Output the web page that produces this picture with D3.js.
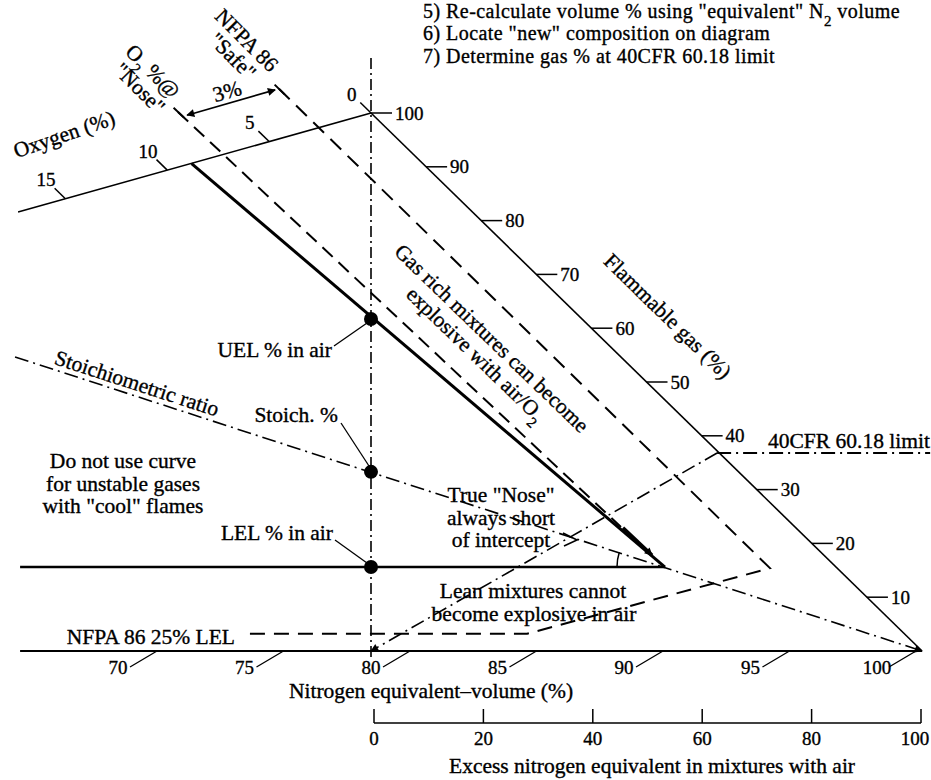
<!DOCTYPE html>
<html>
<head>
<meta charset="utf-8">
<script src="https://cdn.jsdelivr.net/npm/d3@7"></script>
<style>
body { margin: 0; background: #fff; }
svg text { font-family: "Liberation Serif", "Times New Roman", serif; font-size: 21.5px; fill: #000; stroke: #000; stroke-width: 0.35px; }
svg .tick text { font-size: 19px; }
svg text.step { font-size: 20px; letter-spacing: 0.45px; }
</style>
</head>
<body>
<script>
// data, in diagram units: [nitrogen equivalent %, flammable gas %]
var n2Ticks = [70, 75, 80, 85, 90, 95, 100];
var gasTicks = [10, 20, 30, 40, 50, 60, 70, 80, 90, 100];
var oxyTicks = [0, 5, 10, 15];
var excessTicks = [0, 20, 40, 60, 80, 100];

var hypotenuse = [[80, 100], [101.78, 0]];
var baseAxis = [[66.13, 0], [101.78, 0]];
var oxygenAxis = [[80, 100], [66.05, 81.6]];
var airLine = [[80, 110.2], [80, -1.7]];
var flammLimit = [[72.91, 90.6], [91.62, 15.6]];
var lelLine = [[66.13, 15.6], [91.62, 15.6]];
var stoichLine = [[65.93, 54.65], [101.78, 0]];
var noseLine = [[72.37, 100.2], [89.88, 23.05]];
var noseArrow = [[89.96, 22.9], [91.11, 17.8]];
var safeLine = [[76.36, 104.5], [95.77, 15.4], [86.17, 3.2], [75.06, 3.2]];
var cfrDiag = [[93.68, 36.8], [80, 0]];
var cfrLimit = [[93.68, 36.8], [102.1, 36.8]];
var threePct = [[72.73, 99.6], [76.21, 104.3]];
var airPoints = [61.7, 33.3, 15.6]; // UEL, stoich, LEL on the air line

var stepLines = [
    ["5) Re-calculate volume % using \"equivalent\" N", "2", " volume"],
    ["6) Locate \"new\" composition on diagram"],
    ["7) Determine gas % at 40CFR 60.18 limit"]
];

var width = 931, height = 780;

var svg = d3.select("body").append("svg")
    .attr("width", width)
    .attr("height", height);

// scales
var x = d3.scaleLinear().domain([70, 100]).range([118, 877]);
var y = d3.scaleLinear().domain([0, 100]).range([651, 113]);
var oxyN = d3.scaleLinear().domain([0, 15]).range([80, 67.92]);
var oxyG = d3.scaleLinear().domain([0, 15]).range([100, 84.07]);
var xExcess = d3.scaleLinear().domain([0, 100]).range([374, 921]);

var line = d3.line().x(function(d){ return x(d[0]); }).y(function(d){ return y(d[1]); });

// arrow markers
var defs = svg.append("defs");
defs.append("marker")
    .attr("id", "arrow")
    .attr("viewBox", "0 0 10 10")
    .attr("refX", 9).attr("refY", 5)
    .attr("markerWidth", 11).attr("markerHeight", 8)
    .attr("markerUnits", "userSpaceOnUse")
    .attr("orient", "auto-start-reverse")
    .append("path").attr("d", "M0,0 L10,5 L0,10 z").attr("fill", "#000");

function draw(data, w, dash){
    return svg.append("path")
        .attr("d", line(data))
        .attr("fill", "none")
        .attr("stroke", "#000")
        .attr("stroke-width", w)
        .attr("stroke-dasharray", dash || null);
}

// frame lines
draw(hypotenuse, 1.6);
draw(baseAxis, 2);
draw(oxygenAxis, 1.6);
draw(airLine, 1.6, "11,4,2,4");

// flammability envelope
draw(flammLimit, 3);
draw(lelLine, 2.6);
draw(noseLine, 2, "14,8");
draw(noseArrow, 3.5).attr("marker-end", "url(#arrow)");
draw(safeLine, 2, "15,9");
draw(stoichLine, 1.6, "14,5,2,5").attr("marker-end", "url(#arrow)");
draw(cfrDiag, 1.6, "14,5,2,5").attr("marker-end", "url(#arrow)");
draw(cfrLimit, 1.8, "14,5,2,5");
draw(threePct, 1.6).attr("marker-start", "url(#arrow)").attr("marker-end", "url(#arrow)");

// extension bars at start of the two dashed lines
[noseLine, safeLine].forEach(function(l){
    var p0 = [x(l[0][0]), y(l[0][1])], p1 = [x(l[1][0]), y(l[1][1])];
    var len = Math.hypot(p1[0] - p0[0], p1[1] - p0[1]);
    var ux = (p1[0] - p0[0]) / len, uy = (p1[1] - p0[1]) / len;
    svg.append("line")
        .attr("x1", p0[0] - ux * 6).attr("y1", p0[1] - uy * 6)
        .attr("x2", p0[0] + ux * 8).attr("y2", p0[1] + uy * 8)
        .attr("stroke", "#000").attr("stroke-width", 2);
});

// angle arc at the LEL/UEL intercept
(function(){
    var ax = x(flammLimit[1][0]), ay = y(flammLimit[1][1]);
    var sx = x(stoichLine[0][0]) - ax, sy = y(stoichLine[0][1]) - ay;
    var a = Math.atan2(sy, sx), r = 48;
    svg.append("path")
        .attr("d", "M" + (ax - r) + "," + ay + " A" + r + "," + r + " 0 0,1 " + (ax + r * Math.cos(a)) + "," + (ay + r * Math.sin(a)))
        .attr("fill", "none").attr("stroke", "#000").attr("stroke-width", 1.5);
})();

// points on the air line
svg.selectAll(".pt")
    .data(airPoints)
    .enter().append("circle")
    .attr("class", "pt")
    .attr("cx", x(80))
    .attr("cy", function(d){ return y(d); })
    .attr("r", 7)
    .attr("fill", "#000");

// nitrogen axis (slanted ticks)
var n2 = svg.append("g").attr("class", "tick");
n2.selectAll("line").data(n2Ticks).enter().append("line")
    .attr("x1", function(d){ return x(d) + 12; }).attr("y1", 667)
    .attr("x2", function(d){ return x(d) + 39; }).attr("y2", y(0))
    .attr("stroke", "#000").attr("stroke-width", 1.3);
n2.selectAll("text").data(n2Ticks).enter().append("text")
    .attr("x", function(d){ return x(d); }).attr("y", 667)
    .attr("dy", "0.35em").attr("text-anchor", "middle")
    .text(function(d){ return d; });

// flammable gas ticks on hypotenuse
var gasN = d3.scaleLinear().domain([0, 100]).range([hypotenuse[1][0], hypotenuse[0][0]]);
var gas = svg.append("g").attr("class", "tick");
gas.selectAll("line").data(gasTicks).enter().append("line")
    .attr("x1", function(d){ return x(gasN(d)); }).attr("y1", function(d){ return y(d); })
    .attr("x2", function(d){ return x(gasN(d)) + 21; }).attr("y2", function(d){ return y(d); })
    .attr("stroke", "#000").attr("stroke-width", 1.5);
gas.selectAll("text").data(gasTicks).enter().append("text")
    .attr("x", function(d){ return x(gasN(d)) + 24; }).attr("y", function(d){ return y(d); })
    .attr("dy", "0.35em")
    .text(function(d){ return d; });

// oxygen ticks (parallel to hypotenuse)
var hx = x(hypotenuse[0][0]) - x(hypotenuse[1][0]), hy = y(hypotenuse[0][1]) - y(hypotenuse[1][1]);
var hl = Math.hypot(hx, hy);
hx /= hl; hy /= hl;
var oxy = svg.append("g").attr("class", "tick");
oxy.selectAll("line").data(oxyTicks).enter().append("line")
    .attr("x1", function(d){ return x(oxyN(d)); }).attr("y1", function(d){ return y(oxyG(d)); })
    .attr("x2", function(d){ return x(oxyN(d)) + hx * 15; }).attr("y2", function(d){ return y(oxyG(d)) + hy * 15; })
    .attr("stroke", "#000").attr("stroke-width", 1.5);
oxy.selectAll("text").data(oxyTicks).enter().append("text")
    .attr("x", function(d){ return x(oxyN(d)) + hx * 27; }).attr("y", function(d){ return y(oxyG(d)) + hy * 27; })
    .attr("dy", "0.35em").attr("text-anchor", "middle")
    .text(function(d){ return d; });

// excess nitrogen axis
var ex = svg.append("g").attr("class", "tick");
ex.append("line")
    .attr("x1", xExcess(0)).attr("x2", xExcess(100))
    .attr("y1", 723).attr("y2", 723)
    .attr("stroke", "#000").attr("stroke-width", 1.5);
ex.selectAll(".tk").data(excessTicks).enter().append("line")
    .attr("x1", function(d){ return xExcess(d); }).attr("x2", function(d){ return xExcess(d); })
    .attr("y1", 709).attr("y2", 723)
    .attr("stroke", "#000").attr("stroke-width", 1.5);
ex.selectAll("text").data(excessTicks).enter().append("text")
    .attr("x", function(d){ return Math.min(xExcess(d), 915); }).attr("y", 738)
    .attr("dy", "0.35em").attr("text-anchor", "middle")
    .text(function(d){ return d; });

// text helpers
function label(txt, px, py, anchor, rot){
    var t = svg.append("text")
        .attr("transform", "translate(" + px + "," + py + ")" + (rot ? " rotate(" + rot + ")" : ""))
        .attr("dy", "0.35em")
        .attr("text-anchor", anchor || "middle");
    if (typeof txt == "string") t.text(txt);
    else txt.forEach(function(s, i){
        var ts = t.append("tspan").text(s);
        if (i % 2 == 1) ts.attr("baseline-shift", "sub").style("font-size", "15px");
    });
    return t;
}
function leader(x1, y1, x2, y2){
    svg.append("line").attr("x1", x1).attr("y1", y1).attr("x2", x2).attr("y2", y2)
        .attr("stroke", "#000").attr("stroke-width", 1.3);
}

stepLines.forEach(function(s, i){ label(s, 423, 11 + i * 22.3, "start").attr("class", "step"); });

label("NFPA 86", 247, 40, "middle", 45);
label("\"Safe\"", 233, 56, "middle", 45);
label(["O", "2", " %@"], 153, 71, "middle", 45);
label("\"Nose\"", 140, 88, "middle", 45);
label("3%", 227, 91, "middle", -16);
label("Oxygen (%)", 64, 134, "middle", -19);

label("Gas rich mixtures can become", 492, 338, "middle", 44);
label(["explosive with air/O", "2"], 476, 354, "middle", 44);
label("Flammable gas (%)", 668, 316, "middle", 44.3);

label("UEL % in air", 332, 349, "end");
leader(334, 346, 367, 323);
label("Stoichiometric ratio", 137, 383, "middle", 18);
label("Stoich. %", 338, 414, "end");
leader(341, 423, 369, 466);

label("Do not use curve", 123, 460);
label("for unstable gases", 123, 483);
label("with \"cool\" flames", 123, 505);

label("LEL % in air", 333, 532, "end");
leader(335, 540, 367, 563);

label("True \"Nose\"", 501, 494);
label("always short", 501, 517);
label("of intercept", 501, 539);
svg.append("path").attr("d", "M563,533 L577,540 L564,546")
    .attr("fill", "none").attr("stroke", "#000").attr("stroke-width", 1.6);

label("Lean mixtures cannot", 533, 590);
label("become explosive in air", 534, 613);
label("NFPA 86 25% LEL", 235, 636, "end");
label("40CFR 60.18 limit", 768, 440, "start");

label("Nitrogen equivalent\u2013volume (%)", 431, 690);
label("Excess nitrogen equivalent in mixtures with air", 652, 765);
</script>
</body>
</html>
